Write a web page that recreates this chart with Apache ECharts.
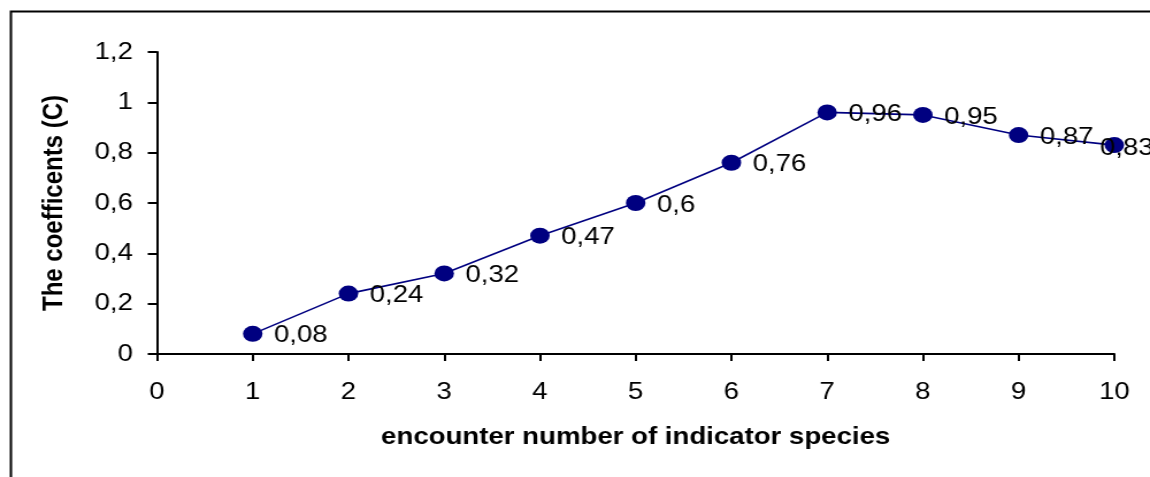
<!DOCTYPE html>
<html><head><meta charset="utf-8">
<script src="https://cdn.jsdelivr.net/npm/echarts@6/dist/echarts.min.js"></script>
<style>
html,body{margin:0;padding:0;background:#fff;overflow:hidden;width:1150px;height:477px}
#c{width:1000px;height:477px;transform:scaleX(1.15);transform-origin:0 0}
</style>
</head><body><div id="c"></div>
<script>
const xValues = [1, 2, 3, 4, 5, 6, 7, 8, 9, 10];
const coefficients = [0.08, 0.24, 0.32, 0.47, 0.6, 0.76, 0.96, 0.95, 0.87, 0.83];
const xTitle = 'encounter number of indicator species';
const yTitle = 'The coefficents (C)';

const fmt = v => String(+v.toFixed(2)).replace('.', ',');
const F = '"Liberation Sans", Arial, sans-serif';
const chart = echarts.init(document.getElementById('c'));
const seriesData = xValues.map((x, i) => {
  const item = { value: [x, coefficients[i]] };
  if (i === xValues.length - 1) item.label = { offset: [-31, 3] };
  return item;
});
chart.setOption({
  backgroundColor: '#fff',
  animation: false,
  graphic: [{
    type: 'rect', left: 7, top: 9,
    shape: { width: 1200, height: 520 },
    style: { fill: 'none', stroke: '#000', lineWidth: 2 }
  }],
  grid: { left: 136.5, right: 31, top: 52, bottom: 123, containLabel: false },
  xAxis: {
    type: 'value', min: 0, max: 10, interval: 1,
    name: xTitle, nameLocation: 'middle', nameGap: 71,
    nameTextStyle: { fontFamily: F, fontSize: 24, fontWeight: 'bold', color: '#000' },
    axisLine: { lineStyle: { color: '#000', width: 2 } },
    axisTick: { show: true, inside: false, length: 7, lineStyle: { color: '#000', width: 2 } },
    axisLabel: { fontFamily: F, fontSize: 24, color: '#000', margin: 26 },
    splitLine: { show: false }
  },
  yAxis: {
    type: 'value', min: 0, max: 1.2, interval: 0.2,
    name: yTitle, nameLocation: 'middle', nameGap: 77,
    nameTextStyle: { fontFamily: F, fontSize: 24, fontWeight: 'bold', color: '#000' },
    axisLine: { show: true, lineStyle: { color: '#000', width: 2 } },
    axisTick: { show: true, inside: false, length: 8, lineStyle: { color: '#000', width: 2 } },
    axisLabel: { fontFamily: F, fontSize: 24, color: '#000', margin: 21, formatter: v => fmt(v) },
    splitLine: { show: false }
  },
  series: [{
    type: 'line',
    data: seriesData,
    symbol: 'circle', symbolSize: [17, 16],
    itemStyle: { color: '#000080' },
    lineStyle: { color: '#000080', width: 1.6 },
    label: {
      show: true, position: 'right', distance: 10, offset: [0, 2],
      fontFamily: F, fontSize: 24, color: '#000',
      formatter: p => fmt(p.value[1])
    }
  }]
});
</script></body></html>
